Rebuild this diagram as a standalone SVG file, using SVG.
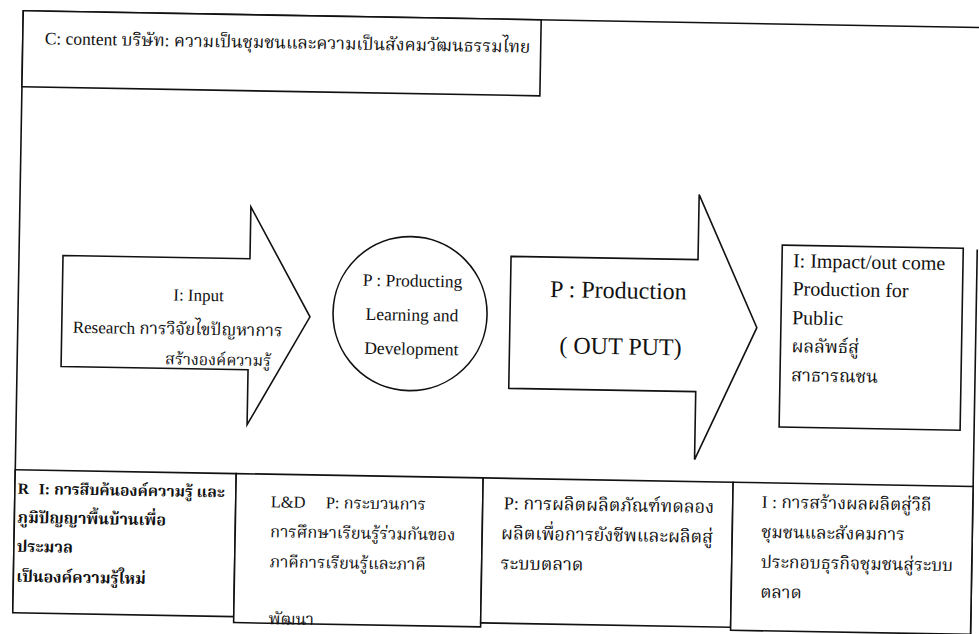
<svg xmlns="http://www.w3.org/2000/svg" width="979" height="634" viewBox="0 0 979 634">
<style>
.ln{fill:none;stroke:#111;stroke-width:1.6;stroke-linejoin:miter}
.sh{fill:#fff;stroke:#111;stroke-width:1.6;stroke-linejoin:miter}
.t{font-family:"Liberation Serif","Norasi","Kinnari","Noto Serif Thai","Noto Sans Thai","DejaVu Serif",serif;fill:#111}
.m{text-anchor:middle}
.b{font-weight:bold}
</style>
<rect width="979" height="634" fill="#fff"/>
<g transform="rotate(1 490 317)">
  <g id="frame">
    <path class="ln" d="M995,19 H18 V621"/>
    <path class="ln" d="M976,241 V626"/>
  </g>
  <g id="context">
    <rect class="sh" x="18" y="19" width="518" height="76"/>
    <text class="t" x="40" y="52" font-size="17.5">C: content บริษัท: ความเป็นชุมชนและความเป็นสังคมวัฒนธรรมไทย</text>
  </g>
  <g id="input">
    <polygon class="sh" points="62,263 249,263 249,211 310,320 249,429 249,374 62,374"/>
    <text class="t" x="173" y="306" font-size="17">I: Input</text>
    <text class="t" x="73" y="340" font-size="17">Research การวิจัยไขปัญหาการ</text>
    <text class="t" x="166" y="370" font-size="16">สร้างองค์ความรู้</text>
  </g>
  <g id="process">
    <circle class="sh" cx="410" cy="315" r="77"/>
    <text class="t m" x="412" y="288" font-size="17.5">P : Producting</text>
    <text class="t m" x="412" y="322" font-size="17.5">Learning and</text>
    <text class="t m" x="412" y="356" font-size="17.5">Development</text>
  </g>
  <g id="output">
    <polygon class="sh" points="510,256 697,256 697,191 757,323 697,456 697,388 510,388"/>
    <text class="t m" x="618" y="296" font-size="24">P : Production</text>
    <text class="t m" x="621" y="352" font-size="24">( OUT PUT)</text>
  </g>
  <g id="impact">
    <rect class="sh" x="781" y="240" width="181" height="182"/>
    <text class="t" x="792" y="262" font-size="20">I: Impact/out come</text>
    <text class="t" x="792" y="290" font-size="20">Production for</text>
    <text class="t" x="792" y="319" font-size="20">Public</text>
    <text class="t" x="792" y="347" font-size="18">ผลลัพธ์สู่</text>
    <text class="t" x="792" y="376" font-size="18">สาธารณชน</text>
  </g>
  <g id="research">
    <rect class="sh" x="18" y="478" width="221" height="143"/>
    <text class="t b" y="502" font-size="15.5"><tspan x="21">R</tspan><tspan x="42">I: การสืบค้นองค์ความรู้ และ</tspan></text>
    <text class="t b" x="21" y="531" font-size="16">ภูมิปัญญาพื้นบ้านเพื่อ</text>
    <text class="t b" x="21" y="560" font-size="16">ประมวล</text>
    <text class="t b" x="21" y="590" font-size="16">เป็นองค์ความรู้ใหม่</text>
  </g>
  <g id="learning">
    <rect class="sh" x="239" y="478" width="247" height="149"/>
    <text class="t" y="511" font-size="16.5"><tspan x="274">L&amp;D</tspan><tspan x="329">P: กระบวนการ</tspan></text>
    <text class="t" x="274" y="541" font-size="16.5">การศึกษาเรียนรู้ร่วมกันของ</text>
    <text class="t" x="274" y="571" font-size="16.5">ภาคีการเรียนรู้และภาคี</text>
    <text class="t" x="274" y="628" font-size="16.5">พัฒนา</text>
  </g>
  <g id="production">
    <rect class="sh" x="486" y="478" width="250" height="145"/>
    <text class="t" x="507" y="509" font-size="18">P: การผลิตผลิตภัณฑ์ทดลอง</text>
    <text class="t" x="505" y="539" font-size="18">ผลิตเพื่อการยังชีพและผลิตสู่</text>
    <text class="t" x="505" y="569" font-size="18">ระบบตลาด</text>
  </g>
  <g id="market">
    <rect class="sh" x="736" y="478" width="240" height="148"/>
    <text class="t" x="765" y="503" font-size="17.5">I : การสร้างผลผลิตสู่วิถี</text>
    <text class="t" x="765" y="533" font-size="17.5">ชุมชนและสังคมการ</text>
    <text class="t" x="765" y="563" font-size="17.5">ประกอบธุรกิจชุมชนสู่ระบบ</text>
    <text class="t" x="765" y="593" font-size="17.5">ตลาด</text>
  </g>
</g>
</svg>
